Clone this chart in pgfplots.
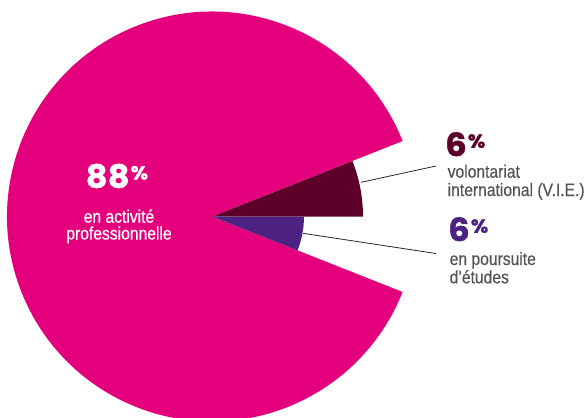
\documentclass[border=0pt]{standalone}
\usepackage{fontspec}
\setmainfont{Liberation Sans}
\newfontfamily\lab{Liberation Sans}[FakeStretch=0.87, FakeBold=0.5]
\newfontfamily\numfont{Poppins}[FakeStretch=1.06, BoldFeatures={FakeBold=1.2}]
\usepackage{pgfplots}
\usepackage{pgfplotstable}
\pgfplotsset{compat=1.18}

\definecolor{cact}{HTML}{E4007D}
\definecolor{cvie}{HTML}{5C0029}
\definecolor{cetu}{HTML}{4E2282}
\definecolor{ctxt}{HTML}{555557}

% slices counter-clockwise from 0 deg: value (%), radius (pt), colour
\pgfplotstableread{
name     value radius col
vie      6     151    cvie
activite 88    205    cact
etudes   6     92     cetu
}\piedata

\newcommand{\pct}[1]{{\numfont\bfseries\fontsize{32}{32}\selectfont #1\kern1pt\raisebox{8.2pt}{\fontsize{19}{19}\selectfont\%}}}

\begin{document}
\begin{tikzpicture}
\begin{axis}[
    width=587pt, height=418pt, scale only axis,
    xmin=0, xmax=587, ymin=0, ymax=418,
    y dir=reverse,
    hide axis,
    clip=false,
]
\def\cum{0}
\pgfplotsforeachungrouped \i in {0,1,2}{%
  \pgfplotstablegetelem{\i}{value}\of\piedata \let\val\pgfplotsretval
  \pgfplotstablegetelem{\i}{radius}\of\piedata \let\rad\pgfplotsretval
  \pgfplotstablegetelem{\i}{col}\of\piedata \let\col\pgfplotsretval
  \pgfmathsetmacro\angEnd{\cum+3.6*\val}%
  \edef\temp{\noexpand\fill[\col] (axis cs:212,216.5) -- ++(\cum:\rad pt)
    arc[start angle=\cum, end angle=\angEnd, radius=\rad pt] -- cycle;}%
  \temp
  \let\cum\angEnd
}

% leader lines
\draw[black!85, line width=0.8pt] (axis cs:361,182.3) -- (axis cs:436,166);
\draw[black!85, line width=0.8pt] (axis cs:303,233.3) -- (axis cs:436,253.5);

% 88 %
\node[white, anchor=base west, inner sep=0, text depth=0pt] at (axis cs:85.5,187.7) {\pct{88}};
\node[white, anchor=base, inner sep=0, font=\lab\fontsize{18}{18}\selectfont] at (axis cs:119,222.7) {en activité};
\node[white, anchor=base, inner sep=0, font=\lab\fontsize{18}{18}\selectfont] at (axis cs:119,239.5) {professionnelle};

% 6 % V.I.E.
\node[cvie, anchor=base west, inner sep=0, text depth=0pt] at (axis cs:445,156) {\pct{6}};
\node[ctxt, anchor=base west, inner sep=0, font=\lab\fontsize{18}{18}\selectfont] at (axis cs:447.5,177.7) {volontariat};
\node[ctxt, anchor=base west, inner sep=0, font=\lab\fontsize{18}{18}\selectfont] at (axis cs:447.5,196) {international (V.I.E.)};

% 6 % etudes
\node[cetu, anchor=base west, inner sep=0, text depth=0pt] at (axis cs:448,241) {\pct{6}};
\node[ctxt, anchor=base west, inner sep=0, font=\lab\fontsize{18}{18}\selectfont] at (axis cs:449.5,265) {en poursuite};
\node[ctxt, anchor=base west, inner sep=0, font=\lab\fontsize{18}{18}\selectfont] at (axis cs:449.5,283.3) {d’études};
\end{axis}
\pgfresetboundingbox
\path[use as bounding box] (0,0) rectangle (587pt,418pt);
\end{tikzpicture}
\end{document}
